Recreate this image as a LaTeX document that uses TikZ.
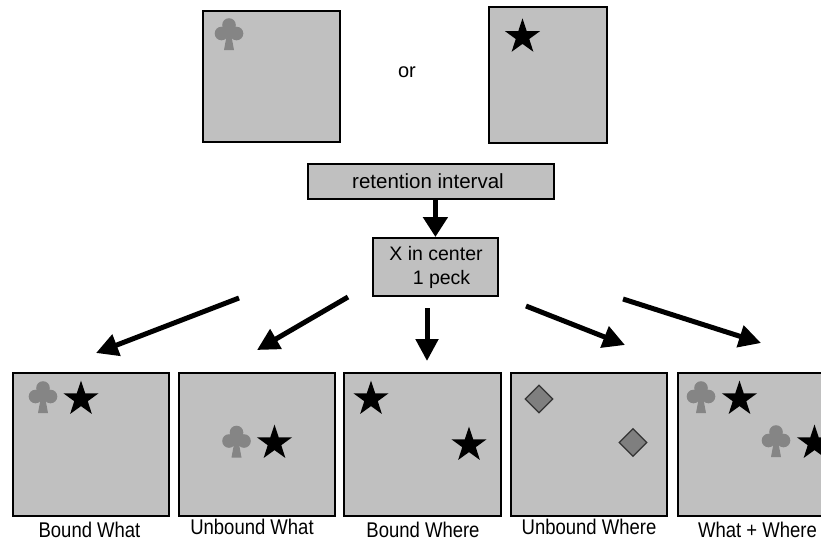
\documentclass[tikz,border=0pt]{standalone}
\usepackage{fontspec}
\setmainfont{Liberation Sans}
\usetikzlibrary{arrows.meta,shapes.geometric}
\definecolor{panelgray}{HTML}{C0C0C0}
\definecolor{clubgray}{HTML}{858585}
\definecolor{diagray}{HTML}{7F7F7F}
\begin{document}
\begin{tikzpicture}[x=1pt,y=-1pt,
  panel/.style={draw=black, line width=2pt, fill=panelgray, rectangle, anchor=north west, inner sep=0pt},
  textbox/.style={draw=black, line width=1.8pt, fill=panelgray, rectangle, anchor=north west, inner sep=0pt,
    font=\fontsize{20}{24}\selectfont},
  starsym/.style={star, star points=5, star point ratio=2.6, fill=black, draw=none, minimum size=37pt, inner sep=0pt},
  diasym/.style={diamond, fill=diagray, draw=black!80, line width=1.2pt, minimum size=28pt, inner sep=0pt},
  lab/.style={anchor=base, font=\fontsize{18.5}{22}\selectfont},
  bigarrow/.style={line width=5pt, -{Triangle[length=22pt,width=22pt]}},
  club/.pic={
    \fill[clubgray] (0,-9) circle[radius=6.8pt] (-7.5,-0.5) circle[radius=6.8pt] (7.5,-0.5) circle[radius=6.8pt];
    \fill[clubgray] (-1.5,-3) -- (1.5,-3) -- (5,16) -- (-5,16) -- cycle;
  }]
\useasboundingbox (0,0) rectangle (821,542);
\clip (0,0) rectangle (821,542);

% top panels
\node[panel, minimum width=137pt, minimum height=131pt] (top1) at (202,10) {};
\node[panel, minimum width=118pt, minimum height=136pt] (top2) at (488,6) {};
\pic at (229,34) {club};
\node[starsym] (st0) at (522.5,36.8) {};
\node[font=\fontsize{20}{24}\selectfont] (or) at (407,72) {or};

% text boxes
\node[textbox, minimum width=246pt, minimum height=35pt] (ret) at (307,163) {};
\node[font=\fontsize{20.5}{24}\selectfont] (rettext) at (428,181) {retention interval};
\node[textbox, minimum width=125pt, minimum height=58pt] (xbox) at (372,237) {};
\node[font=\fontsize{19.5}{24}\selectfont, align=left] (xtext) at (436,267) {X in center\\\hspace*{1.2em}1 peck};

\draw[line width=5pt, -{Triangle[length=20pt,width=24pt]}] (xbox.north |- ret.south) -- (xbox.north);

% arrow coordinates
\coordinate (a1s) at (239,298); \coordinate (a1e) at (96,353);
\coordinate (a2s) at (348,297); \coordinate (a2e) at (257,350);
\coordinate (a3s) at (427,308); \coordinate (a3e) at (427,361);
\coordinate (a4s) at (526,306); \coordinate (a4e) at (625,345);
\coordinate (a5s) at (623,299); \coordinate (a5e) at (761,343);
\draw[bigarrow] (a1s) -- (a1e);
\draw[bigarrow] (a2s) -- (a2e);
\draw[bigarrow] (a3s) -- (a3e);
\draw[bigarrow] (a4s) -- (a4e);
\draw[bigarrow] (a5s) -- (a5e);

% bottom panels
\node[panel, minimum width=156pt, minimum height=143pt] (p1) at (12,372) {};
\node[panel, minimum width=156pt, minimum height=143pt] (p2) at (178,372) {};
\node[panel, minimum width=157pt, minimum height=143pt] (p3) at (343,372) {};
\node[panel, minimum width=156pt, minimum height=143pt] (p4) at (510,372) {};
\node[panel, minimum width=156pt, minimum height=143pt] (p5) at (677,372) {};

% panel 1
\pic at (43,397) {club};
\node[starsym] (s11) at (81,399) {};
% panel 2
\pic at (236.5,441.5) {club};
\node[starsym] (s21) at (274.5,443) {};
% panel 3
\node[starsym] (s31) at (371,399) {};
\node[starsym] (s32) at (469,445) {};
% panel 4
\node[diasym] (d41) at (539,399) {};
\node[diasym] (d42) at (633,442.5) {};
% panel 5
\pic at (701,397) {club};
\node[starsym] (s51) at (739.5,399) {};
\pic at (776,441) {club};
\node[starsym] (s52) at (814.5,443) {};

% labels
\node[lab] (l1) at (89.5,537) {\scalebox{1}[1.15]{Bound What}};
\node[lab] (l2) at (252,534) {\scalebox{1}[1.15]{Unbound What}};
\node[lab] (l3) at (423,537) {\scalebox{1}[1.15]{Bound Where}};
\node[lab] (l4) at (589,534) {\scalebox{1}[1.15]{Unbound Where}};
\node[lab] (l5) at (757.5,537) {\scalebox{1}[1.15]{What + Where}};
\end{tikzpicture}
\end{document}
